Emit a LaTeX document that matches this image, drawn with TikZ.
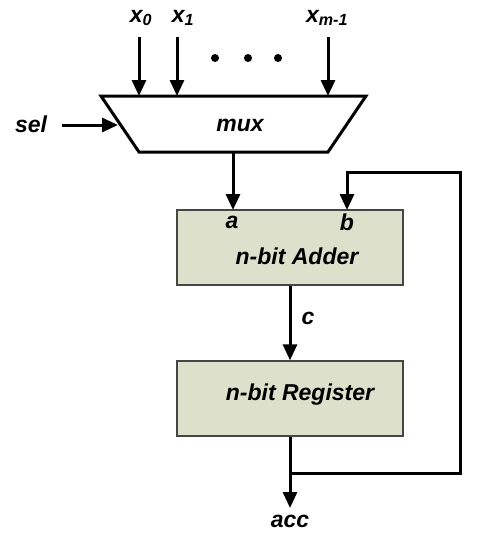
\documentclass[tikz,border=0pt]{standalone}
\usepackage{fontspec}
\setmainfont{Liberation Sans}
\usetikzlibrary{arrows.meta}
\definecolor{boxfill}{RGB}{221,224,202}
\definecolor{boxline}{RGB}{70,70,70}
\begin{document}
\begin{tikzpicture}[x=1pt,y=-1pt,
  wire/.style={line width=3pt},
  arr/.style={wire,-{Triangle[length=16pt,width=14pt]}},
  lbl/.style={font=\fontsize{23}{26}\selectfont\bfseries\itshape,inner sep=0pt},
  blk/.style={draw=boxline,fill=boxfill,line width=1.3pt,minimum width=226pt,minimum height=75pt,inner sep=0pt}]
\useasboundingbox (0,0) rectangle (479,541);
% mux
\draw[line width=3pt,line join=miter] (101,96) -- (366,96) -- (328,152) -- (139,152) -- cycle;
\node[lbl] (mux) at (240,125) {mux};
\coordinate (selend) at (118,125);
% inputs
\node[lbl] (x0) at (141,18) {x\textsubscript{0}};
\node[lbl] (x1) at (183,18) {x\textsubscript{1}};
\node[lbl] (xm) at (327,18) {x\textsubscript{m-1}};
\coordinate (x0s) at (139,37);
\coordinate (x0e) at (139,96);
\coordinate (x1s) at (177,37);
\coordinate (x1e) at (177,96);
\coordinate (xms) at (328,37);
\coordinate (xme) at (328,96);
\draw[arr] (x0s) -- (x0e);
\draw[arr] (x1s) -- (x1e);
\draw[arr] (xms) -- (xme);
\fill (215,58) circle (4pt) (248,58) circle (4pt) (278,58) circle (4pt);
% sel
\node[lbl] (sel) at (31,124) {sel};
\coordinate (sels) at (62,125);
\draw[arr] (sels) -- (selend);
% adder
\node[blk] (adder) at (290,247.5) {};
\node[lbl] (adtxt) at (297,256) {n-bit Adder};
\node[lbl] (a) at (232,222) {a};
\node[lbl] (b) at (347,222) {b};
\coordinate (muxout) at (233,152);
\coordinate (ain) at (233,210);
\draw[arr] (muxout) -- (ain);
% register
\node[blk] (reg) at (290,398.5) {};
\node[lbl] (regtxt) at (300,395) {n-bit Register};
\draw[arr] (adder.south) -- (reg.north);
\node[lbl] (c) at (308,318) {c};
% output
\coordinate (jn) at (290,473);
\coordinate (outend) at (290,508);
\node[lbl] (acc) at (290,521) {acc};
\draw[arr] (reg.south) -- (outend);
% feedback
\coordinate (fr1) at (460,473);
\coordinate (fr2) at (460,172);
\coordinate (fb) at (347,172);
\coordinate (bin) at (347,210);
\draw[arr,line join=miter] (jn) -- (fr1) -- (fr2) -- (fb) -- (bin);
\end{tikzpicture}
\end{document}
